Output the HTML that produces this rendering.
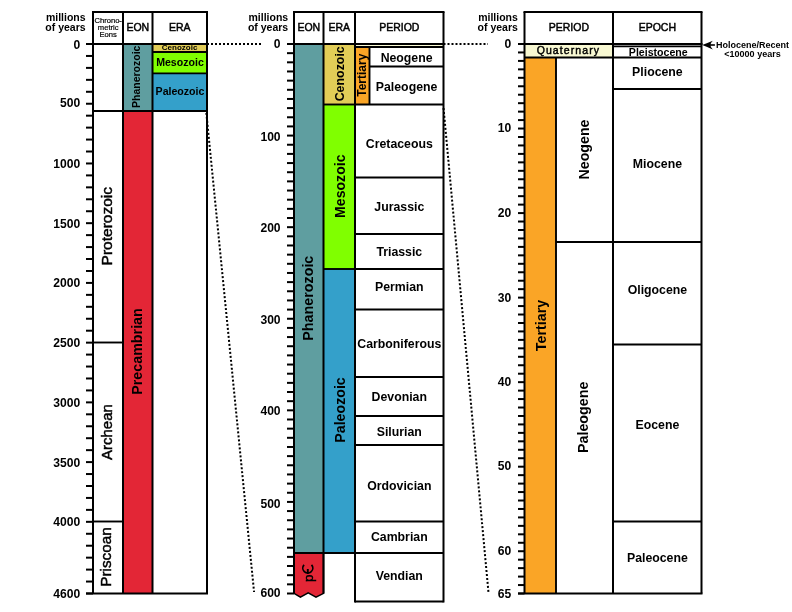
<!DOCTYPE html>
<html><head><meta charset="utf-8"><title>Geologic Time Scale</title>
<style>
html,body{margin:0;padding:0;background:#fff;}
svg{display:block;will-change:transform;}
text{font-family:"Liberation Sans", sans-serif;}
</style></head>
<body>
<svg width="792" height="612" viewBox="0 0 792 612">
<rect width="792" height="612" fill="#fff"/>
<rect x="123.00" y="44.00" width="29.50" height="67.00" fill="#5F9EA0"/>
<rect x="123.00" y="111.00" width="29.50" height="482.50" fill="#E32636"/>
<rect x="152.50" y="44.00" width="54.50" height="8.00" fill="#E2CD57"/>
<rect x="152.50" y="52.00" width="54.50" height="21.40" fill="#80FF00"/>
<rect x="152.50" y="73.40" width="54.50" height="37.60" fill="#34A0CA"/>
<line x1="152.50" y1="52.00" x2="207.00" y2="52.00" stroke="#000" stroke-width="1.9"/>
<line x1="152.50" y1="73.40" x2="207.00" y2="73.40" stroke="#000" stroke-width="1.9"/>
<line x1="93.00" y1="111.00" x2="207.00" y2="111.00" stroke="#000" stroke-width="2.0"/>
<line x1="93.00" y1="342.50" x2="123.00" y2="342.50" stroke="#000" stroke-width="1.9"/>
<line x1="93.00" y1="521.50" x2="123.00" y2="521.50" stroke="#000" stroke-width="1.9"/>
<line x1="86.00" y1="44.00" x2="93.00" y2="44.00" stroke="#000" stroke-width="2.0"/>
<line x1="86.00" y1="55.95" x2="93.00" y2="55.95" stroke="#000" stroke-width="2.0"/>
<line x1="86.00" y1="67.89" x2="93.00" y2="67.89" stroke="#000" stroke-width="2.0"/>
<line x1="86.00" y1="79.84" x2="93.00" y2="79.84" stroke="#000" stroke-width="2.0"/>
<line x1="86.00" y1="91.78" x2="93.00" y2="91.78" stroke="#000" stroke-width="2.0"/>
<line x1="86.00" y1="103.73" x2="93.00" y2="103.73" stroke="#000" stroke-width="2.0"/>
<line x1="86.00" y1="115.67" x2="93.00" y2="115.67" stroke="#000" stroke-width="2.0"/>
<line x1="86.00" y1="127.62" x2="93.00" y2="127.62" stroke="#000" stroke-width="2.0"/>
<line x1="86.00" y1="139.57" x2="93.00" y2="139.57" stroke="#000" stroke-width="2.0"/>
<line x1="86.00" y1="151.51" x2="93.00" y2="151.51" stroke="#000" stroke-width="2.0"/>
<line x1="86.00" y1="163.46" x2="93.00" y2="163.46" stroke="#000" stroke-width="2.0"/>
<line x1="86.00" y1="175.40" x2="93.00" y2="175.40" stroke="#000" stroke-width="2.0"/>
<line x1="86.00" y1="187.35" x2="93.00" y2="187.35" stroke="#000" stroke-width="2.0"/>
<line x1="86.00" y1="199.29" x2="93.00" y2="199.29" stroke="#000" stroke-width="2.0"/>
<line x1="86.00" y1="211.24" x2="93.00" y2="211.24" stroke="#000" stroke-width="2.0"/>
<line x1="86.00" y1="223.18" x2="93.00" y2="223.18" stroke="#000" stroke-width="2.0"/>
<line x1="86.00" y1="235.13" x2="93.00" y2="235.13" stroke="#000" stroke-width="2.0"/>
<line x1="86.00" y1="247.08" x2="93.00" y2="247.08" stroke="#000" stroke-width="2.0"/>
<line x1="86.00" y1="259.02" x2="93.00" y2="259.02" stroke="#000" stroke-width="2.0"/>
<line x1="86.00" y1="270.97" x2="93.00" y2="270.97" stroke="#000" stroke-width="2.0"/>
<line x1="86.00" y1="282.91" x2="93.00" y2="282.91" stroke="#000" stroke-width="2.0"/>
<line x1="86.00" y1="294.86" x2="93.00" y2="294.86" stroke="#000" stroke-width="2.0"/>
<line x1="86.00" y1="306.80" x2="93.00" y2="306.80" stroke="#000" stroke-width="2.0"/>
<line x1="86.00" y1="318.75" x2="93.00" y2="318.75" stroke="#000" stroke-width="2.0"/>
<line x1="86.00" y1="330.70" x2="93.00" y2="330.70" stroke="#000" stroke-width="2.0"/>
<line x1="86.00" y1="342.64" x2="93.00" y2="342.64" stroke="#000" stroke-width="2.0"/>
<line x1="86.00" y1="354.59" x2="93.00" y2="354.59" stroke="#000" stroke-width="2.0"/>
<line x1="86.00" y1="366.53" x2="93.00" y2="366.53" stroke="#000" stroke-width="2.0"/>
<line x1="86.00" y1="378.48" x2="93.00" y2="378.48" stroke="#000" stroke-width="2.0"/>
<line x1="86.00" y1="390.42" x2="93.00" y2="390.42" stroke="#000" stroke-width="2.0"/>
<line x1="86.00" y1="402.37" x2="93.00" y2="402.37" stroke="#000" stroke-width="2.0"/>
<line x1="86.00" y1="414.32" x2="93.00" y2="414.32" stroke="#000" stroke-width="2.0"/>
<line x1="86.00" y1="426.26" x2="93.00" y2="426.26" stroke="#000" stroke-width="2.0"/>
<line x1="86.00" y1="438.21" x2="93.00" y2="438.21" stroke="#000" stroke-width="2.0"/>
<line x1="86.00" y1="450.15" x2="93.00" y2="450.15" stroke="#000" stroke-width="2.0"/>
<line x1="86.00" y1="462.10" x2="93.00" y2="462.10" stroke="#000" stroke-width="2.0"/>
<line x1="86.00" y1="474.04" x2="93.00" y2="474.04" stroke="#000" stroke-width="2.0"/>
<line x1="86.00" y1="485.99" x2="93.00" y2="485.99" stroke="#000" stroke-width="2.0"/>
<line x1="86.00" y1="497.93" x2="93.00" y2="497.93" stroke="#000" stroke-width="2.0"/>
<line x1="86.00" y1="509.88" x2="93.00" y2="509.88" stroke="#000" stroke-width="2.0"/>
<line x1="86.00" y1="521.83" x2="93.00" y2="521.83" stroke="#000" stroke-width="2.0"/>
<line x1="86.00" y1="533.77" x2="93.00" y2="533.77" stroke="#000" stroke-width="2.0"/>
<line x1="86.00" y1="545.72" x2="93.00" y2="545.72" stroke="#000" stroke-width="2.0"/>
<line x1="86.00" y1="557.66" x2="93.00" y2="557.66" stroke="#000" stroke-width="2.0"/>
<line x1="86.00" y1="569.61" x2="93.00" y2="569.61" stroke="#000" stroke-width="2.0"/>
<line x1="86.00" y1="581.55" x2="93.00" y2="581.55" stroke="#000" stroke-width="2.0"/>
<line x1="86.00" y1="593.50" x2="93.00" y2="593.50" stroke="#000" stroke-width="2.0"/>
<line x1="92.00" y1="12.00" x2="208.00" y2="12.00" stroke="#000" stroke-width="2.0"/>
<line x1="86.00" y1="44.00" x2="208.00" y2="44.00" stroke="#000" stroke-width="2.0"/>
<line x1="86.00" y1="593.50" x2="208.00" y2="593.50" stroke="#000" stroke-width="2.0"/>
<line x1="93.00" y1="12.00" x2="93.00" y2="593.50" stroke="#000" stroke-width="2.0"/>
<line x1="123.00" y1="12.00" x2="123.00" y2="593.50" stroke="#000" stroke-width="2.0"/>
<line x1="152.50" y1="12.00" x2="152.50" y2="593.50" stroke="#000" stroke-width="2.0"/>
<line x1="207.00" y1="12.00" x2="207.00" y2="593.50" stroke="#000" stroke-width="2.0"/>
<rect x="294.00" y="44.00" width="29.50" height="509.00" fill="#5F9EA0"/>
<path d="M294,553 L323.5,553 L323.5,593.4 L316,597.2 L308.2,592.8 L300.4,597.2 L294,593.4 Z" fill="#E32636" stroke="#000" stroke-width="1.5" stroke-linejoin="miter"/>
<rect x="323.50" y="44.00" width="31.50" height="60.50" fill="#E2CD57"/>
<rect x="323.50" y="104.50" width="31.50" height="164.50" fill="#80FF00"/>
<rect x="323.50" y="269.00" width="31.50" height="284.00" fill="#34A0CA"/>
<rect x="355.00" y="44.00" width="88.50" height="3.00" fill="#F8F8D2"/>
<rect x="355.00" y="47.00" width="14.50" height="57.50" fill="#FAA526"/>
<line x1="355.00" y1="47.00" x2="443.50" y2="47.00" stroke="#000" stroke-width="1.9"/>
<line x1="355.00" y1="104.50" x2="443.50" y2="104.50" stroke="#000" stroke-width="1.9"/>
<line x1="355.00" y1="177.50" x2="443.50" y2="177.50" stroke="#000" stroke-width="1.9"/>
<line x1="355.00" y1="234.00" x2="443.50" y2="234.00" stroke="#000" stroke-width="1.9"/>
<line x1="355.00" y1="269.00" x2="443.50" y2="269.00" stroke="#000" stroke-width="1.9"/>
<line x1="355.00" y1="309.50" x2="443.50" y2="309.50" stroke="#000" stroke-width="1.9"/>
<line x1="355.00" y1="377.00" x2="443.50" y2="377.00" stroke="#000" stroke-width="1.9"/>
<line x1="355.00" y1="416.00" x2="443.50" y2="416.00" stroke="#000" stroke-width="1.9"/>
<line x1="355.00" y1="445.00" x2="443.50" y2="445.00" stroke="#000" stroke-width="1.9"/>
<line x1="355.00" y1="521.50" x2="443.50" y2="521.50" stroke="#000" stroke-width="1.9"/>
<line x1="355.00" y1="553.00" x2="443.50" y2="553.00" stroke="#000" stroke-width="1.9"/>
<line x1="355.00" y1="601.50" x2="443.50" y2="601.50" stroke="#000" stroke-width="1.9"/>
<line x1="323.50" y1="104.50" x2="355.00" y2="104.50" stroke="#000" stroke-width="1.9"/>
<line x1="323.50" y1="269.00" x2="355.00" y2="269.00" stroke="#000" stroke-width="1.9"/>
<line x1="294.00" y1="553.00" x2="355.00" y2="553.00" stroke="#000" stroke-width="1.9"/>
<line x1="369.50" y1="47.00" x2="369.50" y2="104.50" stroke="#000" stroke-width="1.9"/>
<line x1="369.50" y1="66.50" x2="443.50" y2="66.50" stroke="#000" stroke-width="1.9"/>
<line x1="287.00" y1="44.00" x2="294.00" y2="44.00" stroke="#000" stroke-width="2.0"/>
<line x1="287.00" y1="53.16" x2="294.00" y2="53.16" stroke="#000" stroke-width="2.0"/>
<line x1="287.00" y1="62.32" x2="294.00" y2="62.32" stroke="#000" stroke-width="2.0"/>
<line x1="287.00" y1="71.47" x2="294.00" y2="71.47" stroke="#000" stroke-width="2.0"/>
<line x1="287.00" y1="80.63" x2="294.00" y2="80.63" stroke="#000" stroke-width="2.0"/>
<line x1="287.00" y1="89.79" x2="294.00" y2="89.79" stroke="#000" stroke-width="2.0"/>
<line x1="287.00" y1="98.95" x2="294.00" y2="98.95" stroke="#000" stroke-width="2.0"/>
<line x1="287.00" y1="108.11" x2="294.00" y2="108.11" stroke="#000" stroke-width="2.0"/>
<line x1="287.00" y1="117.27" x2="294.00" y2="117.27" stroke="#000" stroke-width="2.0"/>
<line x1="287.00" y1="126.42" x2="294.00" y2="126.42" stroke="#000" stroke-width="2.0"/>
<line x1="287.00" y1="135.58" x2="294.00" y2="135.58" stroke="#000" stroke-width="2.0"/>
<line x1="287.00" y1="144.74" x2="294.00" y2="144.74" stroke="#000" stroke-width="2.0"/>
<line x1="287.00" y1="153.90" x2="294.00" y2="153.90" stroke="#000" stroke-width="2.0"/>
<line x1="287.00" y1="163.06" x2="294.00" y2="163.06" stroke="#000" stroke-width="2.0"/>
<line x1="287.00" y1="172.22" x2="294.00" y2="172.22" stroke="#000" stroke-width="2.0"/>
<line x1="287.00" y1="181.38" x2="294.00" y2="181.38" stroke="#000" stroke-width="2.0"/>
<line x1="287.00" y1="190.53" x2="294.00" y2="190.53" stroke="#000" stroke-width="2.0"/>
<line x1="287.00" y1="199.69" x2="294.00" y2="199.69" stroke="#000" stroke-width="2.0"/>
<line x1="287.00" y1="208.85" x2="294.00" y2="208.85" stroke="#000" stroke-width="2.0"/>
<line x1="287.00" y1="218.01" x2="294.00" y2="218.01" stroke="#000" stroke-width="2.0"/>
<line x1="287.00" y1="227.17" x2="294.00" y2="227.17" stroke="#000" stroke-width="2.0"/>
<line x1="287.00" y1="236.32" x2="294.00" y2="236.32" stroke="#000" stroke-width="2.0"/>
<line x1="287.00" y1="245.48" x2="294.00" y2="245.48" stroke="#000" stroke-width="2.0"/>
<line x1="287.00" y1="254.64" x2="294.00" y2="254.64" stroke="#000" stroke-width="2.0"/>
<line x1="287.00" y1="263.80" x2="294.00" y2="263.80" stroke="#000" stroke-width="2.0"/>
<line x1="287.00" y1="272.96" x2="294.00" y2="272.96" stroke="#000" stroke-width="2.0"/>
<line x1="287.00" y1="282.12" x2="294.00" y2="282.12" stroke="#000" stroke-width="2.0"/>
<line x1="287.00" y1="291.27" x2="294.00" y2="291.27" stroke="#000" stroke-width="2.0"/>
<line x1="287.00" y1="300.43" x2="294.00" y2="300.43" stroke="#000" stroke-width="2.0"/>
<line x1="287.00" y1="309.59" x2="294.00" y2="309.59" stroke="#000" stroke-width="2.0"/>
<line x1="287.00" y1="318.75" x2="294.00" y2="318.75" stroke="#000" stroke-width="2.0"/>
<line x1="287.00" y1="327.91" x2="294.00" y2="327.91" stroke="#000" stroke-width="2.0"/>
<line x1="287.00" y1="337.07" x2="294.00" y2="337.07" stroke="#000" stroke-width="2.0"/>
<line x1="287.00" y1="346.23" x2="294.00" y2="346.23" stroke="#000" stroke-width="2.0"/>
<line x1="287.00" y1="355.38" x2="294.00" y2="355.38" stroke="#000" stroke-width="2.0"/>
<line x1="287.00" y1="364.54" x2="294.00" y2="364.54" stroke="#000" stroke-width="2.0"/>
<line x1="287.00" y1="373.70" x2="294.00" y2="373.70" stroke="#000" stroke-width="2.0"/>
<line x1="287.00" y1="382.86" x2="294.00" y2="382.86" stroke="#000" stroke-width="2.0"/>
<line x1="287.00" y1="392.02" x2="294.00" y2="392.02" stroke="#000" stroke-width="2.0"/>
<line x1="287.00" y1="401.18" x2="294.00" y2="401.18" stroke="#000" stroke-width="2.0"/>
<line x1="287.00" y1="410.33" x2="294.00" y2="410.33" stroke="#000" stroke-width="2.0"/>
<line x1="287.00" y1="419.49" x2="294.00" y2="419.49" stroke="#000" stroke-width="2.0"/>
<line x1="287.00" y1="428.65" x2="294.00" y2="428.65" stroke="#000" stroke-width="2.0"/>
<line x1="287.00" y1="437.81" x2="294.00" y2="437.81" stroke="#000" stroke-width="2.0"/>
<line x1="287.00" y1="446.97" x2="294.00" y2="446.97" stroke="#000" stroke-width="2.0"/>
<line x1="287.00" y1="456.12" x2="294.00" y2="456.12" stroke="#000" stroke-width="2.0"/>
<line x1="287.00" y1="465.28" x2="294.00" y2="465.28" stroke="#000" stroke-width="2.0"/>
<line x1="287.00" y1="474.44" x2="294.00" y2="474.44" stroke="#000" stroke-width="2.0"/>
<line x1="287.00" y1="483.60" x2="294.00" y2="483.60" stroke="#000" stroke-width="2.0"/>
<line x1="287.00" y1="492.76" x2="294.00" y2="492.76" stroke="#000" stroke-width="2.0"/>
<line x1="287.00" y1="501.92" x2="294.00" y2="501.92" stroke="#000" stroke-width="2.0"/>
<line x1="287.00" y1="511.07" x2="294.00" y2="511.07" stroke="#000" stroke-width="2.0"/>
<line x1="287.00" y1="520.23" x2="294.00" y2="520.23" stroke="#000" stroke-width="2.0"/>
<line x1="287.00" y1="529.39" x2="294.00" y2="529.39" stroke="#000" stroke-width="2.0"/>
<line x1="287.00" y1="538.55" x2="294.00" y2="538.55" stroke="#000" stroke-width="2.0"/>
<line x1="287.00" y1="547.71" x2="294.00" y2="547.71" stroke="#000" stroke-width="2.0"/>
<line x1="287.00" y1="556.87" x2="294.00" y2="556.87" stroke="#000" stroke-width="2.0"/>
<line x1="287.00" y1="566.02" x2="294.00" y2="566.02" stroke="#000" stroke-width="2.0"/>
<line x1="287.00" y1="575.18" x2="294.00" y2="575.18" stroke="#000" stroke-width="2.0"/>
<line x1="287.00" y1="584.34" x2="294.00" y2="584.34" stroke="#000" stroke-width="2.0"/>
<line x1="287.00" y1="593.50" x2="294.00" y2="593.50" stroke="#000" stroke-width="2.0"/>
<line x1="293.00" y1="12.00" x2="444.50" y2="12.00" stroke="#000" stroke-width="2.0"/>
<line x1="287.00" y1="44.00" x2="444.50" y2="44.00" stroke="#000" stroke-width="2.0"/>
<line x1="294.00" y1="12.00" x2="294.00" y2="593.40" stroke="#000" stroke-width="2.0"/>
<line x1="323.50" y1="12.00" x2="323.50" y2="593.40" stroke="#000" stroke-width="2.0"/>
<line x1="355.00" y1="12.00" x2="355.00" y2="602.45" stroke="#000" stroke-width="2.0"/>
<line x1="443.50" y1="12.00" x2="443.50" y2="602.45" stroke="#000" stroke-width="2.0"/>
<rect x="524.50" y="44.00" width="88.50" height="13.50" fill="#F8F8D2"/>
<rect x="524.50" y="57.50" width="31.50" height="536.00" fill="#FAA526"/>
<line x1="524.50" y1="57.50" x2="701.50" y2="57.50" stroke="#000" stroke-width="1.9"/>
<line x1="613.00" y1="46.35" x2="701.50" y2="46.35" stroke="#000" stroke-width="1.7"/>
<line x1="613.00" y1="89.00" x2="701.50" y2="89.00" stroke="#000" stroke-width="1.9"/>
<line x1="556.00" y1="242.00" x2="701.50" y2="242.00" stroke="#000" stroke-width="1.9"/>
<line x1="613.00" y1="344.50" x2="701.50" y2="344.50" stroke="#000" stroke-width="1.9"/>
<line x1="613.00" y1="521.50" x2="701.50" y2="521.50" stroke="#000" stroke-width="1.9"/>
<line x1="556.00" y1="57.50" x2="556.00" y2="593.50" stroke="#000" stroke-width="1.9"/>
<line x1="518.00" y1="44.00" x2="524.50" y2="44.00" stroke="#000" stroke-width="2.0"/>
<line x1="518.00" y1="52.45" x2="524.50" y2="52.45" stroke="#000" stroke-width="2.0"/>
<line x1="518.00" y1="60.91" x2="524.50" y2="60.91" stroke="#000" stroke-width="2.0"/>
<line x1="518.00" y1="69.36" x2="524.50" y2="69.36" stroke="#000" stroke-width="2.0"/>
<line x1="518.00" y1="77.82" x2="524.50" y2="77.82" stroke="#000" stroke-width="2.0"/>
<line x1="518.00" y1="86.27" x2="524.50" y2="86.27" stroke="#000" stroke-width="2.0"/>
<line x1="518.00" y1="94.72" x2="524.50" y2="94.72" stroke="#000" stroke-width="2.0"/>
<line x1="518.00" y1="103.18" x2="524.50" y2="103.18" stroke="#000" stroke-width="2.0"/>
<line x1="518.00" y1="111.63" x2="524.50" y2="111.63" stroke="#000" stroke-width="2.0"/>
<line x1="518.00" y1="120.08" x2="524.50" y2="120.08" stroke="#000" stroke-width="2.0"/>
<line x1="518.00" y1="128.54" x2="524.50" y2="128.54" stroke="#000" stroke-width="2.0"/>
<line x1="518.00" y1="136.99" x2="524.50" y2="136.99" stroke="#000" stroke-width="2.0"/>
<line x1="518.00" y1="145.45" x2="524.50" y2="145.45" stroke="#000" stroke-width="2.0"/>
<line x1="518.00" y1="153.90" x2="524.50" y2="153.90" stroke="#000" stroke-width="2.0"/>
<line x1="518.00" y1="162.35" x2="524.50" y2="162.35" stroke="#000" stroke-width="2.0"/>
<line x1="518.00" y1="170.81" x2="524.50" y2="170.81" stroke="#000" stroke-width="2.0"/>
<line x1="518.00" y1="179.26" x2="524.50" y2="179.26" stroke="#000" stroke-width="2.0"/>
<line x1="518.00" y1="187.72" x2="524.50" y2="187.72" stroke="#000" stroke-width="2.0"/>
<line x1="518.00" y1="196.17" x2="524.50" y2="196.17" stroke="#000" stroke-width="2.0"/>
<line x1="518.00" y1="204.62" x2="524.50" y2="204.62" stroke="#000" stroke-width="2.0"/>
<line x1="518.00" y1="213.08" x2="524.50" y2="213.08" stroke="#000" stroke-width="2.0"/>
<line x1="518.00" y1="221.53" x2="524.50" y2="221.53" stroke="#000" stroke-width="2.0"/>
<line x1="518.00" y1="229.98" x2="524.50" y2="229.98" stroke="#000" stroke-width="2.0"/>
<line x1="518.00" y1="238.44" x2="524.50" y2="238.44" stroke="#000" stroke-width="2.0"/>
<line x1="518.00" y1="246.89" x2="524.50" y2="246.89" stroke="#000" stroke-width="2.0"/>
<line x1="518.00" y1="255.35" x2="524.50" y2="255.35" stroke="#000" stroke-width="2.0"/>
<line x1="518.00" y1="263.80" x2="524.50" y2="263.80" stroke="#000" stroke-width="2.0"/>
<line x1="518.00" y1="272.25" x2="524.50" y2="272.25" stroke="#000" stroke-width="2.0"/>
<line x1="518.00" y1="280.71" x2="524.50" y2="280.71" stroke="#000" stroke-width="2.0"/>
<line x1="518.00" y1="289.16" x2="524.50" y2="289.16" stroke="#000" stroke-width="2.0"/>
<line x1="518.00" y1="297.62" x2="524.50" y2="297.62" stroke="#000" stroke-width="2.0"/>
<line x1="518.00" y1="306.07" x2="524.50" y2="306.07" stroke="#000" stroke-width="2.0"/>
<line x1="518.00" y1="314.52" x2="524.50" y2="314.52" stroke="#000" stroke-width="2.0"/>
<line x1="518.00" y1="322.98" x2="524.50" y2="322.98" stroke="#000" stroke-width="2.0"/>
<line x1="518.00" y1="331.43" x2="524.50" y2="331.43" stroke="#000" stroke-width="2.0"/>
<line x1="518.00" y1="339.88" x2="524.50" y2="339.88" stroke="#000" stroke-width="2.0"/>
<line x1="518.00" y1="348.34" x2="524.50" y2="348.34" stroke="#000" stroke-width="2.0"/>
<line x1="518.00" y1="356.79" x2="524.50" y2="356.79" stroke="#000" stroke-width="2.0"/>
<line x1="518.00" y1="365.25" x2="524.50" y2="365.25" stroke="#000" stroke-width="2.0"/>
<line x1="518.00" y1="373.70" x2="524.50" y2="373.70" stroke="#000" stroke-width="2.0"/>
<line x1="518.00" y1="382.15" x2="524.50" y2="382.15" stroke="#000" stroke-width="2.0"/>
<line x1="518.00" y1="390.61" x2="524.50" y2="390.61" stroke="#000" stroke-width="2.0"/>
<line x1="518.00" y1="399.06" x2="524.50" y2="399.06" stroke="#000" stroke-width="2.0"/>
<line x1="518.00" y1="407.52" x2="524.50" y2="407.52" stroke="#000" stroke-width="2.0"/>
<line x1="518.00" y1="415.97" x2="524.50" y2="415.97" stroke="#000" stroke-width="2.0"/>
<line x1="518.00" y1="424.42" x2="524.50" y2="424.42" stroke="#000" stroke-width="2.0"/>
<line x1="518.00" y1="432.88" x2="524.50" y2="432.88" stroke="#000" stroke-width="2.0"/>
<line x1="518.00" y1="441.33" x2="524.50" y2="441.33" stroke="#000" stroke-width="2.0"/>
<line x1="518.00" y1="449.78" x2="524.50" y2="449.78" stroke="#000" stroke-width="2.0"/>
<line x1="518.00" y1="458.24" x2="524.50" y2="458.24" stroke="#000" stroke-width="2.0"/>
<line x1="518.00" y1="466.69" x2="524.50" y2="466.69" stroke="#000" stroke-width="2.0"/>
<line x1="518.00" y1="475.15" x2="524.50" y2="475.15" stroke="#000" stroke-width="2.0"/>
<line x1="518.00" y1="483.60" x2="524.50" y2="483.60" stroke="#000" stroke-width="2.0"/>
<line x1="518.00" y1="492.05" x2="524.50" y2="492.05" stroke="#000" stroke-width="2.0"/>
<line x1="518.00" y1="500.51" x2="524.50" y2="500.51" stroke="#000" stroke-width="2.0"/>
<line x1="518.00" y1="508.96" x2="524.50" y2="508.96" stroke="#000" stroke-width="2.0"/>
<line x1="518.00" y1="517.42" x2="524.50" y2="517.42" stroke="#000" stroke-width="2.0"/>
<line x1="518.00" y1="525.87" x2="524.50" y2="525.87" stroke="#000" stroke-width="2.0"/>
<line x1="518.00" y1="534.32" x2="524.50" y2="534.32" stroke="#000" stroke-width="2.0"/>
<line x1="518.00" y1="542.78" x2="524.50" y2="542.78" stroke="#000" stroke-width="2.0"/>
<line x1="518.00" y1="551.23" x2="524.50" y2="551.23" stroke="#000" stroke-width="2.0"/>
<line x1="518.00" y1="559.68" x2="524.50" y2="559.68" stroke="#000" stroke-width="2.0"/>
<line x1="518.00" y1="568.14" x2="524.50" y2="568.14" stroke="#000" stroke-width="2.0"/>
<line x1="518.00" y1="576.59" x2="524.50" y2="576.59" stroke="#000" stroke-width="2.0"/>
<line x1="518.00" y1="585.05" x2="524.50" y2="585.05" stroke="#000" stroke-width="2.0"/>
<line x1="518.00" y1="593.50" x2="524.50" y2="593.50" stroke="#000" stroke-width="2.0"/>
<line x1="523.50" y1="12.00" x2="702.50" y2="12.00" stroke="#000" stroke-width="2.0"/>
<line x1="518.00" y1="44.00" x2="702.50" y2="44.00" stroke="#000" stroke-width="2.0"/>
<line x1="518.00" y1="593.50" x2="702.50" y2="593.50" stroke="#000" stroke-width="2.0"/>
<line x1="524.50" y1="12.00" x2="524.50" y2="593.50" stroke="#000" stroke-width="2.0"/>
<line x1="613.00" y1="12.00" x2="613.00" y2="593.50" stroke="#000" stroke-width="2.0"/>
<line x1="701.50" y1="12.00" x2="701.50" y2="593.50" stroke="#000" stroke-width="2.0"/>
<line x1="207" y1="44" x2="262" y2="44" stroke="#000" stroke-width="2" stroke-dasharray="2 2"/>
<line x1="443.5" y1="44" x2="488.0" y2="44" stroke="#000" stroke-width="2" stroke-dasharray="2 2"/>
<line x1="206.35" y1="113" x2="254.06" y2="592" stroke="#000" stroke-width="2" stroke-dasharray="2 2"/>
<line x1="443.52" y1="108" x2="488.44" y2="592" stroke="#000" stroke-width="2" stroke-dasharray="2 2"/>
<path d="M702.2,45.1 Q707.6,43.0 712.8,40.8 Q710.3,43.3 710.4,45.1 Q710.3,47.0 712.8,49.5 Q707.6,47.2 702.2,45.1 Z" fill="#000"/>
<line x1="709.50" y1="45.00" x2="714.90" y2="45.00" stroke="#000" stroke-width="1.6"/>
<g font-family='"Liberation Sans", sans-serif' fill="#000">
<text x="85.60" y="20.80" font-size="10.5" font-weight="bold" text-anchor="end" >millions</text>
<text x="85.60" y="30.70" font-size="10.5" font-weight="bold" text-anchor="end" >of years</text>
<text x="288.20" y="20.80" font-size="10.5" font-weight="bold" text-anchor="end" >millions</text>
<text x="288.20" y="30.70" font-size="10.5" font-weight="bold" text-anchor="end" >of years</text>
<text x="517.90" y="20.80" font-size="10.5" font-weight="bold" text-anchor="end" >millions</text>
<text x="517.90" y="30.70" font-size="10.5" font-weight="bold" text-anchor="end" >of years</text>
<text x="80.20" y="48.60" font-size="12.1" font-weight="bold" text-anchor="end" >0</text>
<text x="80.20" y="107.40" font-size="12.1" font-weight="bold" text-anchor="end" >500</text>
<text x="80.20" y="167.85" font-size="12.1" font-weight="bold" text-anchor="end" >1000</text>
<text x="80.20" y="227.85" font-size="12.1" font-weight="bold" text-anchor="end" >1500</text>
<text x="80.20" y="287.41" font-size="12.1" font-weight="bold" text-anchor="end" >2000</text>
<text x="80.20" y="347.10" font-size="12.1" font-weight="bold" text-anchor="end" >2500</text>
<text x="80.20" y="406.87" font-size="12.1" font-weight="bold" text-anchor="end" >3000</text>
<text x="80.20" y="466.60" font-size="12.1" font-weight="bold" text-anchor="end" >3500</text>
<text x="80.20" y="526.33" font-size="12.1" font-weight="bold" text-anchor="end" >4000</text>
<text x="80.20" y="598.00" font-size="12.1" font-weight="bold" text-anchor="end" >4600</text>
<text x="280.60" y="48.25" font-size="12.1" font-weight="bold" text-anchor="end" >0</text>
<text x="280.60" y="140.90" font-size="12.1" font-weight="bold" text-anchor="end" >100</text>
<text x="280.60" y="232.40" font-size="12.1" font-weight="bold" text-anchor="end" >200</text>
<text x="280.60" y="323.95" font-size="12.1" font-weight="bold" text-anchor="end" >300</text>
<text x="280.60" y="415.00" font-size="12.1" font-weight="bold" text-anchor="end" >400</text>
<text x="280.60" y="508.10" font-size="12.1" font-weight="bold" text-anchor="end" >500</text>
<text x="280.60" y="597.40" font-size="12.1" font-weight="bold" text-anchor="end" >600</text>
<text x="511.30" y="48.25" font-size="12.1" font-weight="bold" text-anchor="end" >0</text>
<text x="511.30" y="132.35" font-size="12.1" font-weight="bold" text-anchor="end" >10</text>
<text x="511.30" y="216.85" font-size="12.1" font-weight="bold" text-anchor="end" >20</text>
<text x="511.30" y="301.85" font-size="12.1" font-weight="bold" text-anchor="end" >30</text>
<text x="511.30" y="385.75" font-size="12.1" font-weight="bold" text-anchor="end" >40</text>
<text x="511.30" y="470.45" font-size="12.1" font-weight="bold" text-anchor="end" >50</text>
<text x="511.30" y="555.25" font-size="12.1" font-weight="bold" text-anchor="end" >60</text>
<text x="511.30" y="598.05" font-size="12.1" font-weight="bold" text-anchor="end" >65</text>
<text x="108.20" y="22.60" font-size="7.6" font-weight="normal" text-anchor="middle" stroke="#000" stroke-width="0.2">Chrono-</text>
<text x="108.20" y="29.70" font-size="7.6" font-weight="normal" text-anchor="middle" stroke="#000" stroke-width="0.2">metric</text>
<text x="108.20" y="36.80" font-size="7.6" font-weight="normal" text-anchor="middle" stroke="#000" stroke-width="0.2">Eons</text>
<text x="137.80" y="30.60" font-size="10.5" font-weight="normal" text-anchor="middle"  stroke="#000" stroke-width="0.45">EON</text>
<text x="179.80" y="30.60" font-size="10.5" font-weight="normal" text-anchor="middle"  stroke="#000" stroke-width="0.45">ERA</text>
<text x="308.80" y="30.60" font-size="10.5" font-weight="normal" text-anchor="middle"  stroke="#000" stroke-width="0.45">EON</text>
<text x="339.30" y="30.60" font-size="10.5" font-weight="normal" text-anchor="middle"  stroke="#000" stroke-width="0.45">ERA</text>
<text x="399.30" y="30.60" font-size="10.5" font-weight="normal" text-anchor="middle"  stroke="#000" stroke-width="0.45">PERIOD</text>
<text x="568.90" y="30.70" font-size="10.5" font-weight="normal" text-anchor="middle"  stroke="#000" stroke-width="0.45">PERIOD</text>
<text x="657.30" y="30.70" font-size="10.5" font-weight="normal" text-anchor="middle"  stroke="#000" stroke-width="0.45">EPOCH</text>
<text transform="translate(140.00,76.80) rotate(-90)" font-size="10.5" font-weight="bold" text-anchor="middle" >Phanerozoic</text>
<text transform="translate(142.30,351.50) rotate(-90)" font-size="14.3" font-weight="bold" text-anchor="middle" >Precambrian</text>
<text transform="translate(112.30,226.20) rotate(-90)" font-size="15.5" font-weight="normal" text-anchor="middle"  stroke="#000" stroke-width="0.45">Proterozoic</text>
<text transform="translate(112.00,432.10) rotate(-90)" font-size="15.0" font-weight="normal" text-anchor="middle"  stroke="#000" stroke-width="0.45">Archean</text>
<text transform="translate(111.30,557.00) rotate(-90)" font-size="15.3" font-weight="normal" text-anchor="middle"  stroke="#000" stroke-width="0.45">Priscoan</text>
<text x="179.60" y="50.20" font-size="8.0" font-weight="bold" text-anchor="middle" >Cenozoic</text>
<text x="180.00" y="66.10" font-size="10.6" font-weight="bold" text-anchor="middle" >Mesozoic</text>
<text x="180.00" y="94.60" font-size="10.6" font-weight="bold" text-anchor="middle" >Paleozoic</text>
<text transform="translate(313.20,298.20) rotate(-90)" font-size="14.3" font-weight="bold" text-anchor="middle" >Phanerozoic</text>
<text transform="translate(344.20,73.80) rotate(-90)" font-size="12.4" font-weight="bold" text-anchor="middle" >Cenozoic</text>
<text transform="translate(344.80,186.20) rotate(-90)" font-size="14.1" font-weight="bold" text-anchor="middle" >Mesozoic</text>
<text transform="translate(345.00,410.00) rotate(-90)" font-size="14.2" font-weight="bold" text-anchor="middle" >Paleozoic</text>
<text transform="translate(365.80,75.20) rotate(-90)" font-size="12.0" font-weight="bold" text-anchor="middle" >Tertiary</text>
<text transform="translate(312.60,578.20) rotate(-90)" font-size="13.4" font-weight="normal" text-anchor="middle"  stroke="#000" stroke-width="0.45">p</text>
<path d="M304.08,564.80 A5.0,4.88 0 1 0 311.52,564.80" fill="none" stroke="#000" stroke-width="1.7"/>
<line x1="307.8" y1="569.0" x2="307.8" y2="574.0" stroke="#000" stroke-width="1.9"/>
<text x="406.60" y="61.70" font-size="12.3" font-weight="bold" text-anchor="middle" >Neogene</text>
<text x="406.60" y="90.80" font-size="12.3" font-weight="bold" text-anchor="middle" >Paleogene</text>
<text x="399.30" y="148.30" font-size="12.3" font-weight="bold" text-anchor="middle" >Cretaceous</text>
<text x="399.30" y="210.80" font-size="12.3" font-weight="bold" text-anchor="middle" >Jurassic</text>
<text x="399.30" y="255.80" font-size="12.3" font-weight="bold" text-anchor="middle" >Triassic</text>
<text x="399.30" y="290.80" font-size="12.3" font-weight="bold" text-anchor="middle" >Permian</text>
<text x="399.30" y="348.30" font-size="12.3" font-weight="bold" text-anchor="middle" >Carboniferous</text>
<text x="399.30" y="400.80" font-size="12.3" font-weight="bold" text-anchor="middle" >Devonian</text>
<text x="399.30" y="436.30" font-size="12.3" font-weight="bold" text-anchor="middle" >Silurian</text>
<text x="399.30" y="490.00" font-size="12.3" font-weight="bold" text-anchor="middle" >Ordovician</text>
<text x="399.30" y="541.20" font-size="12.3" font-weight="bold" text-anchor="middle" >Cambrian</text>
<text x="399.30" y="580.30" font-size="12.3" font-weight="bold" text-anchor="middle" >Vendian</text>
<text transform="translate(545.50,325.50) rotate(-90)" font-size="14.3" font-weight="bold" text-anchor="middle" >Tertiary</text>
<text transform="translate(588.70,149.50) rotate(-90)" font-size="14.2" font-weight="bold" text-anchor="middle" >Neogene</text>
<text transform="translate(588.00,417.30) rotate(-90)" font-size="14.3" font-weight="bold" text-anchor="middle" >Paleogene</text>
<text x="568.40" y="53.60" font-size="10.5" font-weight="normal" text-anchor="middle" letter-spacing="1.1" stroke="#000" stroke-width="0.45">Quaternary</text>
<text x="658.30" y="56.10" font-size="10.6" font-weight="bold" text-anchor="middle" >Pleistocene</text>
<text x="657.40" y="76.30" font-size="12.3" font-weight="bold" text-anchor="middle" >Pliocene</text>
<text x="657.40" y="167.50" font-size="12.3" font-weight="bold" text-anchor="middle" >Miocene</text>
<text x="657.40" y="294.30" font-size="12.3" font-weight="bold" text-anchor="middle" >Oligocene</text>
<text x="657.40" y="428.50" font-size="12.3" font-weight="bold" text-anchor="middle" >Eocene</text>
<text x="657.40" y="561.50" font-size="12.3" font-weight="bold" text-anchor="middle" >Paleocene</text>
<text x="752.50" y="47.80" font-size="9.0" font-weight="bold" text-anchor="middle" >Holocene/Recent</text>
<text x="752.50" y="56.60" font-size="9.0" font-weight="bold" text-anchor="middle" >&lt;10000 years</text>
</g>
</svg>
</body></html>
